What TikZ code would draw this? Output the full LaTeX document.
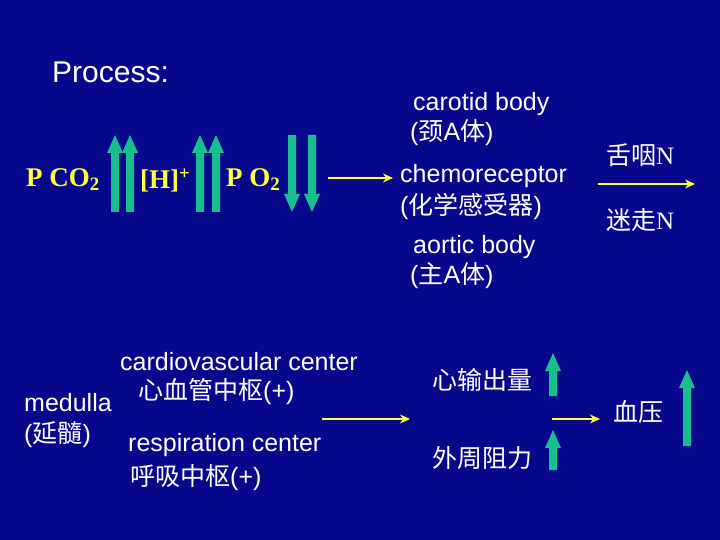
\documentclass[tikz,border=0pt]{standalone}
\usepackage{fontspec}
\setmainfont{Liberation Sans}
\newfontfamily\tms{Liberation Serif}
\newfontfamily\cjkf{Noto Sans CJK SC}
\newcommand{\cj}[1]{{\cjkf\fontsize{25}{27}\selectfont #1}}
\usetikzlibrary{arrows.meta}
\definecolor{bg}{RGB}{8,8,140}
\definecolor{fat}{RGB}{24,190,140}
\definecolor{yel}{RGB}{255,255,60}
\begin{document}
\begin{tikzpicture}[x=1pt,y=-1pt,
  txt/.style={text=white,font=\fontsize{25}{27}\selectfont,anchor=west,inner sep=0pt},
  ytx/.style={text=yel,font=\tms\fontsize{27}{29}\selectfont\bfseries,anchor=west,inner sep=0pt},
  conn/.style={draw=yel,line width=1.3pt,-{Stealth[length=10pt,width=9pt]}},
  fatup/.pic={\fill[fat] (-4,0) -- (-4,-#1) -- (-8,-#1) -- (0,-#1-18) -- (8,-#1) -- (4,-#1) -- (4,0) -- cycle;},
  fatdn/.pic={\fill[fat] (-4,0) -- (-4,#1) -- (-8,#1) -- (0,#1+18) -- (8,#1) -- (4,#1) -- (4,0) -- cycle;}]
\fill[bg] (0,0) rectangle (720,540);
\useasboundingbox (0,0) rectangle (720,540);
\node[txt,font=\fontsize{30}{32}\selectfont] (proc) at (52,72) {Process:};
\node[ytx] (pco2) at (26,180) {P CO\textsubscript{2}};
\node[ytx] (h) at (140,180) {[H]\textsuperscript{+}};
\node[ytx] (po2) at (226,180) {P O\textsubscript{2}};
\pic at (115,212) {fatup=59};
\pic at (130,212) {fatup=59};
\pic at (200,212) {fatup=59};
\pic at (216,212) {fatup=59};
\pic at (292,135) {fatdn=59};
\pic at (312,135) {fatdn=59};
\coordinate (a1s) at (328,178); \coordinate (a1e) at (393,178);
\draw[conn] (a1s) -- (a1e);
\node[txt] (car) at (413,104) {carotid body};
\node[txt] (car2) at (410,133) {(\cj{颈}A\cj{体})};
\node[txt] (chem) at (400,176) {chemoreceptor};
\node[txt] (chem2) at (400,206) {(\cj{化学感受器})};
\node[txt] (aor) at (413,247) {aortic body};
\node[txt] (aor2) at (410,276) {(\cj{主}A\cj{体})};
\node[txt] (n1) at (606,155) {\cj{舌咽}\tms N};
\coordinate (a2s) at (598,184); \coordinate (a2e) at (695,184);
\draw[conn] (a2s) -- (a2e);
\node[txt] (n2) at (606,220) {\cj{迷走}\tms N};
\node[txt] (cv) at (120,362) {cardiovascular center};
\node[txt] (med) at (24,403) {medulla};
\node[txt] (cv2) at (138,392) {\cj{心血管中枢}(+)};
\node[txt] (yan) at (24,435) {(\cj{延髓})};
\node[txt] (rc) at (128,445) {respiration center};
\node[txt] (rc2) at (130,478) {\cj{呼吸中枢}(+)};
\coordinate (a3s) at (322,419); \coordinate (a3e) at (410,419);
\draw[conn] (a3s) -- (a3e);
\node[txt] (co) at (432,380) {\cj{心输出量}};
\node[txt] (pr) at (432,458) {\cj{外周阻力}};
\pic at (553,396) {fatup=25};
\pic at (553,470) {fatup=22};
\coordinate (a4s) at (552,419); \coordinate (a4e) at (600,419);
\draw[conn] (a4s) -- (a4e);
\node[txt] (bp) at (613,412) {\cj{血压}};
\pic at (687,446) {fatup=58};
\end{tikzpicture}
\end{document}
